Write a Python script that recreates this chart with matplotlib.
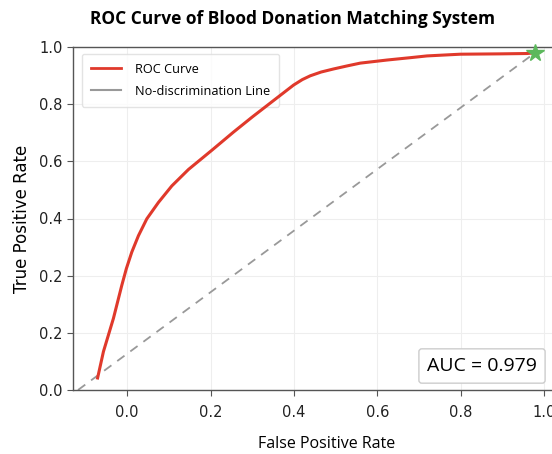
import matplotlib
matplotlib.use("Agg")
import matplotlib.pyplot as plt
from matplotlib.lines import Line2D

# ROC curve points
fpr = [-0.071, -0.057, -0.033, -0.013, -0.002, 0.011, 0.027, 0.047, 0.075,
       0.107, 0.147, 0.204, 0.255, 0.300, 0.350, 0.399, 0.420, 0.439,
       0.465, 0.495, 0.528, 0.559, 0.623, 0.680, 0.719, 0.799, 0.895, 0.959, 0.978]
tpr = [0.035, 0.112, 0.209, 0.305, 0.354, 0.402, 0.450, 0.499, 0.547,
       0.595, 0.643, 0.700, 0.752, 0.796, 0.843, 0.889, 0.905, 0.916,
       0.927, 0.936, 0.945, 0.953, 0.962, 0.969, 0.974, 0.979, 0.980, 0.981, 0.983]

diag_x = [-0.118, 0.978]
diag_y = [0.0, 0.983]

best_point = (0.978, 0.983)
auc = 0.979

x_ticks = [0.0, 0.2, 0.4, 0.6, 0.8, 1.0]
y_ticks = [0, 1/6, 2/6, 3/6, 4/6, 5/6, 1]
y_labels = ["0.0", "0.2", "0.2", "0.4", "0.6", "0.8", "1.0"]

fig = plt.figure(figsize=(5.52, 4.54), dpi=100)
ax = fig.add_axes([73/552, 64/454, 507/552, 343/454])

ax.plot(fpr, tpr, color="#e0392b", lw=2.2, solid_joinstyle="round", zorder=6)
ax.plot(diag_x, diag_y, color="#999999", lw=1.3, ls=(0, (5, 4)), zorder=2)
ax.plot(*best_point, marker="*", color="#5cb85c", markersize=13, zorder=7, clip_on=False)

ax.set_xlim(-0.13, 1.086)
ax.set_ylim(0, 1)
ax.set_xticks(x_ticks)
ax.set_xticklabels([f"{t:.1f}" for t in x_ticks])
ax.set_yticks(y_ticks)
ax.set_yticklabels(y_labels)
ax.tick_params(labelsize=10.5, colors="#222222", length=4, color="#555555")
ax.tick_params(axis="x", pad=7)
ax.grid(True, color="#eeeeee", lw=0.8)
ax.set_axisbelow(True)

for side in ["left", "bottom", "top"]:
    ax.spines[side].set_color("#555555")
    ax.spines[side].set_linewidth(1.0)

ax.set_xlabel("False Positive Rate", fontsize=11.5, family="Open Sans", labelpad=11)
ax.set_ylabel("True Positive Rate", fontsize=12, labelpad=6)

fig.text(292/552, 1 - 19/454, "ROC Curve of Blood Donation Matching System",
         ha="center", va="center", fontsize=12.5, fontweight="bold", family="Open Sans")

handles = [Line2D([], [], color="#e0392b", lw=2),
           Line2D([], [], color="#999999", lw=1.5)]
leg = ax.legend(handles, ["ROC Curve", "No-discrimination Line"], loc="upper left",
                prop={"family": "Open Sans", "size": 9.2}, frameon=True, edgecolor="#dddddd",
                bbox_to_anchor=(0.012, 0.988), borderaxespad=0.2, handlelength=2.4,
                labelspacing=0.7, borderpad=0.7, handletextpad=1.1)
leg.set_zorder(4)

ax.text(482/552, 1 - 366/454, f"AUC = {auc}", transform=fig.transFigure,
        ha="center", va="center", fontsize=14, family="Open Sans",
        bbox=dict(boxstyle="round,pad=0.42,rounding_size=0.15", fc="white", ec="#cccccc", lw=1))

fig.savefig("out.png", dpi=100)
